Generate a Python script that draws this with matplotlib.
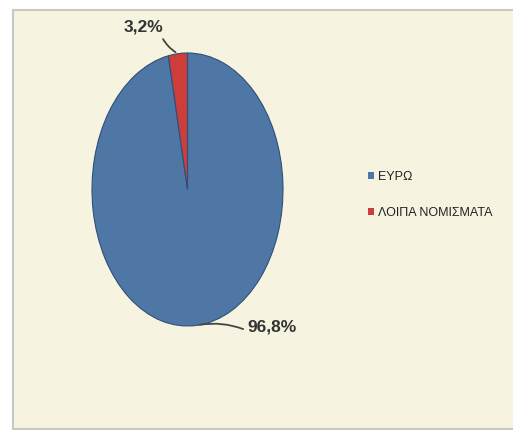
import matplotlib
matplotlib.use("Agg")
import matplotlib.pyplot as plt
from matplotlib.patches import Rectangle, Patch
import numpy as np

labels = ["ΕΥΡΩ", "ΛΟΙΠΑ ΝΟΜΙΣΜΑΤΑ"]
shares = [96.8, 3.2]
value_text = ["96,8%", "3,2%"]
colors = ["#4E77A6", "#CD3E3A"]

W, H = 513, 430
fig = plt.figure(figsize=(W / 100, H / 100), dpi=100)
fig.patch.set_facecolor("white")

font = ["Liberation Sans", "DejaVu Sans"]

# chart panel background with a soft grey frame
fig.add_artist(Rectangle((13 / W, 1 - 429 / H), 1.0, 419 / H,
                         transform=fig.transFigure, facecolor="#F6F4E0",
                         edgecolor="#C9C9C3", linewidth=1.5, zorder=0))

ax = fig.add_axes([92 / W, 1 - 326 / H, 191 / W, 273 / H])
ax.set_facecolor("none")
wedges, _ = ax.pie(shares, colors=colors, startangle=90, counterclock=False,
                   radius=1.0,
                   wedgeprops=dict(edgecolor="#2F4F78", linewidth=0.8))
ax.set_aspect("auto")
ax.set_xlim(-1, 1)
ax.set_ylim(-1, 1)
ax.axis("off")

# value labels with leader lines
angles = []
start = 90.0
for s in shares:
    sweep = s / 100 * 360
    angles.append(start - sweep / 2)
    start -= sweep

text_pos = [(0.63, -1.01), (-0.67, 1.19)]
line_end = [(0.61, -1.03), (-0.27, 1.12)]
for ang, txt, tp, le in zip(angles, value_text, text_pos, line_end):
    px, py = np.cos(np.radians(ang)), np.sin(np.radians(ang))
    ax.annotate(txt, xy=(px, py), xytext=tp, textcoords="data",
                ha="left", va="center", fontsize=12.5, fontweight="bold",
                color="#333333", family=font, annotation_clip=False)
    ax.annotate("", xy=(px, py), xytext=le, textcoords="data",
                arrowprops=dict(arrowstyle="-", color="#444444", lw=1.3,
                                connectionstyle="arc3,rad=0.15"),
                annotation_clip=False)

handles = [Patch(facecolor=c, edgecolor="none") for c in colors]
leg = fig.legend(handles, labels, loc="center left",
                 bbox_to_anchor=(357 / W, 1 - 195 / H), frameon=False,
                 handlelength=0.45, handleheight=0.5, handletextpad=0.3,
                 labelspacing=1.95,
                 prop=dict(family=font, size=9))
for t in leg.get_texts():
    t.set_color("#222222")

fig.savefig("out.png", dpi=100, facecolor="white")
